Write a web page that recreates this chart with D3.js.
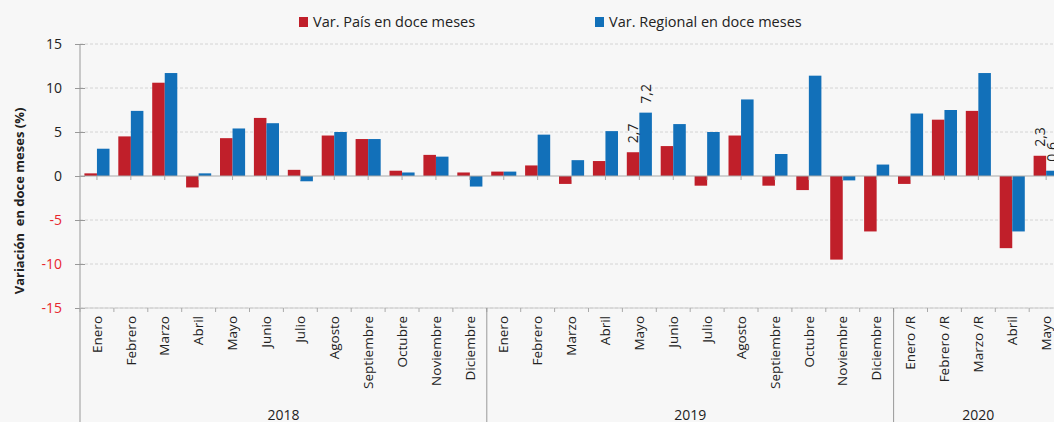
<!DOCTYPE html>
<html>
<head>
<meta charset="utf-8">
<script src="https://cdn.jsdelivr.net/npm/d3@7"></script>
<style>
  body { margin: 0; background: #f7f7f7; }
  svg { display: block; font-family: "Open Sans", sans-serif; }
</style>
</head>
<body>
<div id="chart"></div>
<script>
// months (category labels), grouped by year
var months = ["Enero", "Febrero", "Marzo", "Abril", "Mayo", "Junio", "Julio", "Agosto", "Septiembre", "Octubre", "Noviembre", "Diciembre",
  "Enero", "Febrero", "Marzo", "Abril", "Mayo", "Junio", "Julio", "Agosto", "Septiembre", "Octubre", "Noviembre", "Diciembre",
  "Enero /R", "Febrero /R", "Marzo /R", "Abril", "Mayo"];
var years = ["2018", "2019", "2020"];
var yearCounts = [12, 12, 5];

var pais = [0.3, 4.5, 10.6, -1.3, 4.3, 6.6, 0.7, 4.6, 4.2, 0.6, 2.4, 0.4,
  0.5, 1.2, -0.9, 1.7, 2.7, 3.4, -1.1, 4.6, -1.1, -1.6, -9.5, -6.3,
  -0.9, 6.4, 7.4, -8.2, 2.3];
var regional = [3.1, 7.4, 11.7, 0.3, 5.4, 6.0, -0.6, 5.0, 4.2, 0.4, 2.2, -1.2,
  0.5, 4.7, 1.8, 5.1, 7.2, 5.9, 5.0, 8.7, 2.5, 11.4, -0.5, 1.3,
  7.1, 7.5, 11.7, -6.3, 0.6];
var labelled = [16, 28]; // indexes with data labels
var yTicks = [15, 10, 5, 0, -5, -10, -15];
var seriesNames = ["Var. País en doce meses", "Var. Regional en doce meses"];

var red = "#c01f2a", blue = "#1270b9";

var W = 1054, H = 422;
var margin = { top: 44, left: 80, bottom: 114 };
var bandW = 33.9;
var plotH = H - margin.top - margin.bottom;

var svg = d3.select("#chart").append("svg")
  .attr("width", W).attr("height", H);

var ids = d3.range(months.length);
var x = d3.scaleBand().domain(ids)
  .range([margin.left, margin.left + bandW * months.length])
  .paddingInner(0.26).paddingOuter(0.13);
var x1 = d3.scaleBand().domain([0, 1]).range([0, x.bandwidth()]);
var y = d3.scaleLinear().domain([-15, 15]).range([margin.top + plotH, margin.top]);

var right = margin.left + bandW * months.length;

// grid
svg.append("g").selectAll("line")
  .data(yTicks.filter(d => d !== 0))
  .join("line")
  .attr("x1", margin.left).attr("x2", right)
  .attr("y1", d => y(d)).attr("y2", d => y(d))
  .attr("stroke", "#d4d4d4").attr("stroke-dasharray", "3,2");

// y axis
var yAxis = d3.axisLeft(y).tickValues(yTicks).tickSize(0).tickPadding(0)
  .tickFormat(d => d);
var gy = svg.append("g").attr("transform", "translate(" + margin.left + ",0)").call(yAxis);
gy.select(".domain").remove();
gy.selectAll(".tick text")
  .attr("x", -18)
  .attr("font-size", 14)
  .attr("font-family", "Open Sans, sans-serif")
  .attr("fill", d => d < 0 ? "#e8262d" : "#222");
gy.selectAll(".tick").append("line")
  .attr("x1", -5).attr("x2", 5).attr("stroke", "#999");

svg.append("line")
  .attr("x1", margin.left).attr("x2", margin.left)
  .attr("y1", margin.top).attr("y2", H)
  .attr("stroke", "#999");

// bars
var groups = svg.append("g").selectAll("g")
  .data(ids).join("g")
  .attr("transform", d => "translate(" + x(d) + ",0)");
[pais, regional].forEach(function (vals, s) {
  groups.append("rect")
    .attr("x", x1(s))
    .attr("width", x1.bandwidth())
    .attr("y", d => y(Math.max(0, vals[d])))
    .attr("height", d => Math.abs(y(vals[d]) - y(0)))
    .attr("fill", s === 0 ? red : blue);
});

// data labels
labelled.forEach(function (i) {
  [pais, regional].forEach(function (vals, s) {
    var cx = x(i) + x1(s) + x1.bandwidth() / 2;
    var top = y(Math.max(0, vals[i])) - 9;
    svg.append("text")
      .attr("transform", "translate(" + cx + "," + top + ") rotate(-90)")
      .attr("dy", "0.35em")
      .attr("font-size", 14).attr("fill", "#222")
      .text(vals[i].toFixed(1).replace(".", ","));
  });
});

// zero line with ticks at category centers
svg.append("line")
  .attr("x1", margin.left).attr("x2", right)
  .attr("y1", y(0)).attr("y2", y(0))
  .attr("stroke", "#aaa").attr("stroke-width", 1.2);
svg.append("g").selectAll("line").data(ids).join("line")
  .attr("x1", d => x(d) + x.bandwidth() / 2).attr("x2", d => x(d) + x.bandwidth() / 2)
  .attr("y1", y(0)).attr("y2", y(0) + 4)
  .attr("stroke", "#aaa");

// bottom axis
var base = y(-15);
svg.append("line")
  .attr("x1", margin.left).attr("x2", right)
  .attr("y1", base).attr("y2", base)
  .attr("stroke", "#ccc");
svg.append("g").selectAll("line").data(d3.range(months.length + 1)).join("line")
  .attr("x1", d => margin.left + d * bandW).attr("x2", d => margin.left + d * bandW)
  .attr("y1", base).attr("y2", base + 4)
  .attr("stroke", "#aaa");

svg.append("g").selectAll("text").data(ids).join("text")
  .attr("transform", d => "translate(" + (x(d) + x.bandwidth() / 2) + "," + (base + 8) + ") rotate(-90)")
  .attr("text-anchor", "end")
  .attr("dy", "0.35em")
  .attr("font-size", 13.5).attr("fill", "#222")
  .text(d => months[d]);

// year groups
var start = 0;
years.forEach(function (yr, k) {
  var x0 = margin.left + start * bandW;
  var x2 = margin.left + (start + yearCounts[k]) * bandW;
  if (k > 0) {
    svg.append("line")
      .attr("x1", x0).attr("x2", x0)
      .attr("y1", base).attr("y2", H)
      .attr("stroke", "#999");
  }
  svg.append("text")
    .attr("x", (x0 + x2) / 2).attr("y", 420)
    .attr("text-anchor", "middle")
    .attr("font-size", 14).attr("fill", "#222")
    .text(yr);
  start += yearCounts[k];
});

// y title
svg.append("text")
  .attr("transform", "translate(19,201) rotate(-90)")
  .attr("text-anchor", "middle")
  .attr("dy", "0.35em")
  .attr("font-size", 13).attr("font-weight", "bold").attr("fill", "#222")
  .attr("xml:space", "preserve")
  .text("Variación  en doce meses (%)");

// legend
var legX = [299, 595];
seriesNames.forEach(function (name, s) {
  svg.append("rect")
    .attr("x", legX[s]).attr("y", 17).attr("width", 9).attr("height", 10)
    .attr("fill", s === 0 ? red : blue);
  svg.append("text")
    .attr("x", legX[s] + 14).attr("y", 27)
    .attr("font-size", 14.5).attr("fill", "#222")
    .text(name);
});
</script>
</body>
</html>
